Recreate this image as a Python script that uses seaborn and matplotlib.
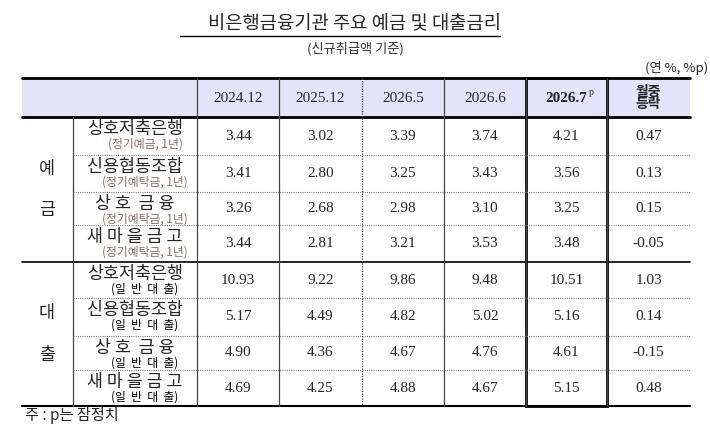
import numpy as np
import matplotlib.pyplot as plt
import seaborn as sns

sns.set_style("white")
plt.rcParams['font.family'] = ['Noto Sans CJK KR', 'DejaVu Sans']

# data
columns = ["2024.12", "2025.12", "2026.5", "2026.6", "2026.7", "월중\n등락"]
names = ["상호저축은행", "신용협동조합", "상 호  금 융", "새 마 을 금 고"] * 2
subs = ["(정기예금, 1년)", "(정기예탁금, 1년)", "(정기예탁금, 1년)", "(정기예탁금, 1년)"] + ["(일  반  대  출)"] * 4
groups = ["예\n\n금", "대\n\n출"]
values = np.array([
    [3.44, 3.02, 3.39, 3.74, 4.21, 0.47],
    [3.41, 2.80, 3.25, 3.43, 3.56, 0.13],
    [3.26, 2.68, 2.98, 3.10, 3.25, 0.15],
    [3.44, 2.81, 3.21, 3.53, 3.48, -0.05],
    [10.93, 9.22, 9.86, 9.48, 10.51, 1.03],
    [5.17, 4.49, 4.82, 5.02, 5.16, 0.14],
    [4.90, 4.36, 4.67, 4.76, 4.61, -0.15],
    [4.69, 4.25, 4.88, 4.67, 5.15, 0.48],
])

# layout (pixel coords)
xs = [22, 73, 197, 279, 362, 444, 526, 607, 690]
ys = [78, 117, 155, 192, 225, 262, 298, 336, 370, 406]

fig = plt.figure(figsize=(7.1, 4.43), dpi=100)
ax = fig.add_axes([0, 0, 1, 1])
ax.set_xlim(0, 710)
ax.set_ylim(443, 0)
ax.axis("off")

ax.text(355, 24, "비은행금융기관 주요 예금 및 대출금리", ha="center", va="center", fontsize=13.5)
ax.plot([180, 500], [36, 36], color="black", lw=1)
ax.text(355, 49, "(신규취급액 기준)", ha="center", va="center", fontsize=9.5, color="#333333")
ax.text(708, 68, "(연 %, %p)", ha="right", va="center", fontsize=9.5)

# header
ax.fill_between([xs[0], xs[-1]], ys[0], ys[1], color="#e3e3fa", lw=0)
for j, c in enumerate(columns):
    cx = (xs[j + 2] + xs[j + 3]) / 2
    if j == 4:
        ax.text(cx, 98, "2026.7", ha="center", va="center", fontsize=11,
                family="Liberation Serif", weight="bold")
        ax.text(cx + 25, 92, "p", ha="center", va="center", fontsize=7, family="Liberation Serif")
    elif j == 5:
        ax.text(cx, 98, c, ha="center", va="center", fontsize=10, weight="bold", linespacing=0.9)
    else:
        ax.text(cx, 98, c, ha="center", va="center", fontsize=11, family="Liberation Serif")

# rows
for i in range(8):
    y0, y1 = ys[i + 1], ys[i + 2]
    cx = (xs[1] + xs[2]) / 2
    ax.text(cx, y0 + 12, names[i], ha="center", va="center", fontsize=12.5)
    ax.text(cx + 10, y0 + 27, subs[i], ha="center", va="center", fontsize=8.5,
            color="#8a7060" if i < 4 else "black")
    for j in range(6):
        vx = (xs[j + 2] + xs[j + 3]) / 2
        ax.text(vx, (y0 + y1) / 2, f"{values[i, j]:.2f}", ha="center", va="center",
                fontsize=11, family="Liberation Serif")
    if i not in (3, 7):
        ax.plot([xs[1], xs[-1]], [y1, y1], color="gray", lw=0.8, ls=(0, (1, 1)))

ax.text(47, (ys[1] + ys[5]) / 2, groups[0], ha="center", va="center", fontsize=12.5, linespacing=1.2)
ax.text(47, (ys[5] + ys[9]) / 2, groups[1], ha="center", va="center", fontsize=12.5, linespacing=1.2)

# grid lines
for y, w in [(ys[0], 2), (ys[1], 2), (ys[5], 1.2), (ys[9], 1.5)]:
    ax.plot([xs[0], xs[-1]], [y, y], color="black", lw=w)
for k, x in enumerate(xs[1:-1], start=1):
    top = ys[1] if k == 1 else ys[0]
    ls = (0, (1, 1)) if k == 4 else "-"
    ax.plot([x, x], [top, ys[9]], color="#444444", lw=0.9, ls=ls)
ax.add_patch(plt.Rectangle((xs[6], ys[0]), xs[7] - xs[6], ys[9] - ys[0],
                           fill=False, ec="black", lw=2))

ax.text(25, 415, "주 : p는 잠정치", ha="left", va="center", fontsize=11)

plt.savefig("out.png", dpi=100)
plt.close()
